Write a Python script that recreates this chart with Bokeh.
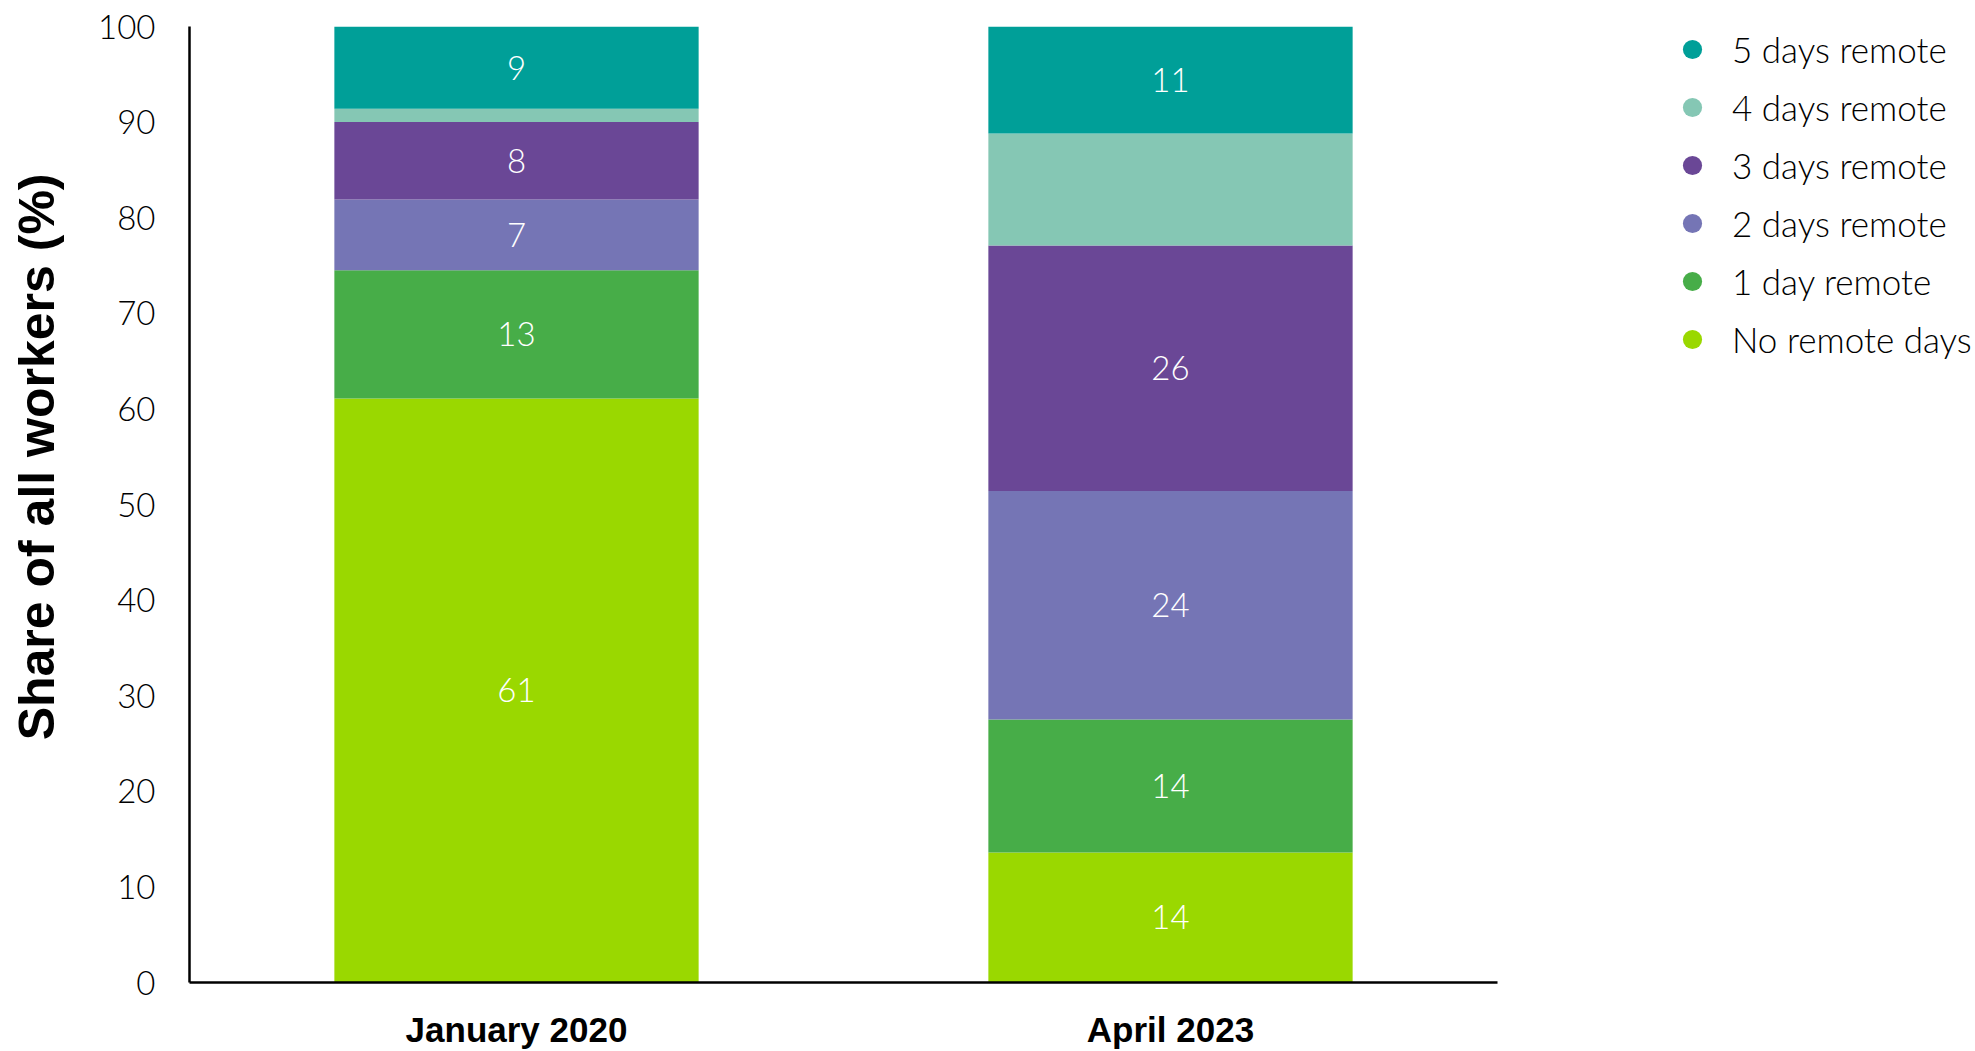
from bokeh.plotting import figure
from bokeh.layouts import row
from bokeh.models import (ColumnDataSource, FactorRange, Range1d, Legend, LegendItem,
                          FixedTicker, Title)
from bokeh.core.properties import value
from bokeh.embed import file_html
from bokeh.resources import INLINE

# ---- data ----
periods = ["January 2020", "April 2023"]
series = ["No remote days", "1 day remote", "2 days remote",
          "3 days remote", "4 days remote", "5 days remote"]
no_remote = [61.1, 13.6]
one_day = [13.4, 13.9]
two_days = [7.4, 23.9]
three_days = [8.1, 25.7]
four_days = [1.4, 11.7]
five_days = [8.6, 11.2]
colors = ["#9AD800", "#47AD48", "#7575B5", "#6A4796", "#85C7B4", "#009F98"]
labelled = [True, True, True, True, False, True]
y_ticks = [0, 10, 20, 30, 40, 50, 60, 70, 80, 90, 100]
y_title = "Share of all workers (%)"

values = [no_remote, one_day, two_days, three_days, four_days, five_days]
keys = ["s%d" % i for i in range(len(series))]
data = {"period": periods}
for k, v in zip(keys, values):
    data[k] = v
source = ColumnDataSource(data)

LIGHT = "Lato Light"
BOLD = "Liberation Sans"

def bare(fig):
    fig.outline_line_color = None
    fig.xgrid.visible = False
    fig.ygrid.visible = False

# ---- y-axis title holder ----
tf = figure(width=80, height=1051, x_range=Range1d(0, 1), y_range=Range1d(0, 1),
            output_backend="svg", toolbar_location=None,
            x_axis_location=None, y_axis_location=None,
            min_border_left=0, min_border_right=0, min_border_top=26, min_border_bottom=67)
bare(tf)
ytitle = Title(text=y_title, align="right", offset=147, vertical_align="middle",
               standoff=14, text_font=BOLD, text_font_style="bold",
               text_font_size="50px", text_color="black")
tf.add_layout(ytitle, "left")

# ---- main chart ----
p = figure(x_range=FactorRange(*periods, range_padding=0), y_range=Range1d(0, 100),
           width=1430, height=1051, output_backend="svg", toolbar_location=None,
           min_border_left=109, min_border_right=13, min_border_top=26, min_border_bottom=67)
bare(p)
p.background_fill_color = "white"

p.vbar_stack(keys, x="period", width=0.557, source=source,
             fill_color=colors, line_color=None)

# segment labels
lx, ly, lt = [], [], []
for j, per in enumerate(periods):
    base = 0.0
    for i, v in enumerate(values):
        if labelled[i]:
            lx.append(per)
            ly.append(base + v[j] / 2)
            lt.append(str(int(round(v[j]))))
        base += v[j]
p.text(x=lx, y=ly, text=lt, text_color="white", text_align="center",
       text_baseline="middle", text_font=value(LIGHT), text_font_size="33px")

p.yaxis.ticker = FixedTicker(ticks=y_ticks)
p.yaxis.major_label_text_font = LIGHT
p.yaxis.major_label_text_font_size = "33px"
p.yaxis.major_label_text_color = "black"
p.yaxis.major_label_standoff = 34
p.yaxis.major_tick_out = 0
p.yaxis.major_tick_in = 0
p.yaxis.minor_tick_out = 0
p.yaxis.minor_tick_in = 0
p.yaxis.axis_line_color = "black"
p.yaxis.axis_line_width = 2.5

p.xaxis.major_label_text_font = BOLD
p.xaxis.major_label_text_font_style = "bold"
p.xaxis.major_label_text_font_size = "35px"
p.xaxis.major_label_text_color = "black"
p.xaxis.major_label_standoff = 27
p.xaxis.major_tick_out = 0
p.xaxis.major_tick_in = 0
p.xaxis.axis_line_color = "black"
p.xaxis.axis_line_width = 2.5

# ---- legend figure with circle markers ----
lf = figure(width=462, height=1051, x_range=Range1d(0, 1), y_range=Range1d(0, 1),
            output_backend="svg", toolbar_location=None,
            x_axis_location=None, y_axis_location=None,
            min_border_left=0, min_border_right=0, min_border_top=26, min_border_bottom=67)
bare(lf)

items = []
nan = float("nan")
for i in reversed(range(len(series))):
    r = lf.scatter(x=[nan], y=[nan], marker="circle", size=19,
                   fill_color=colors[i], line_color=None)
    items.append(LegendItem(label=series[i], renderers=[r]))
legend = Legend(items=items, location=(158, 614), orientation="vertical",
                glyph_width=48, glyph_height=48, label_height=58, spacing=0,
                padding=0, margin=0, label_standoff=16,
                label_text_font=LIGHT, label_text_font_size="35px",
                label_text_color="black", border_line_color=None,
                background_fill_alpha=0)
lf.add_layout(legend, "center")

layout = row(tf, p, lf, spacing=0)
open("out.html", "w").write(file_html(layout, INLINE))
